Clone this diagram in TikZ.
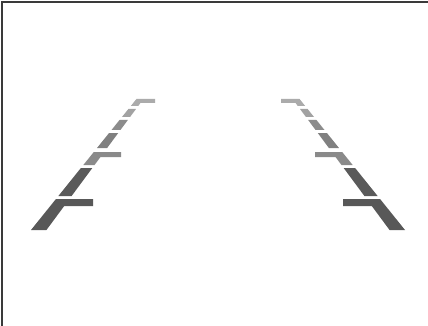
\documentclass[tikz,border=0pt]{standalone}
\usepackage{tikz}
\definecolor{gA}{HTML}{ABABAB}
\definecolor{gB}{HTML}{A2A2A2}
\definecolor{gC}{HTML}{8C8C8C}
\definecolor{gD}{HTML}{808080}
\definecolor{gE}{HTML}{8A8A8A}
\definecolor{gF}{HTML}{5A5A5A}
\definecolor{gG}{HTML}{585858}
\definecolor{frameC}{HTML}{3A3A3A}
\tikzset{
  lanefill/.style={fill=#1, draw=none},
  framestyle/.style={draw=frameC, line width=1.6pt}
}
% left edge of the guide line and its horizontal width as functions of y
\newcommand\lanexl[1]{(31+(230-(#1))*0.805)}
\newcommand\lanew[1]{(7+((#1)-100)*0.065)}
% plain segment: #1 top y, #2 bottom y, #3 colour
\newcommand\laneseg[3]{%
  \pgfmathsetmacro\xLt{\lanexl{#1}}%
  \pgfmathsetmacro\xLb{\lanexl{#2}}%
  \pgfmathsetmacro\xRt{\xLt+\lanew{#1}}%
  \pgfmathsetmacro\xRb{\xLb+\lanew{#2}}%
  \fill[lanefill=#3] (\xLt,#1) -- (\xRt,#1) -- (\xRb,#2) -- (\xLb,#2) -- cycle;%
}
% segment with tick: #1 top y, #2 bottom y, #3 colour, #4 tick height, #5 tick end x
\newcommand\lanetick[5]{%
  \pgfmathsetmacro\xLt{\lanexl{#1}}%
  \pgfmathsetmacro\xLb{\lanexl{#2}}%
  \pgfmathsetmacro\yH{#1+#4}%
  \pgfmathsetmacro\xRh{\lanexl{\yH}+\lanew{\yH}}%
  \pgfmathsetmacro\xRb{\xLb+\lanew{#2}}%
  \fill[lanefill=#3] (\xLt,#1) -- (#5,#1) -- (#5,\yH) -- (\xRh,\yH) -- (\xRb,#2) -- (\xLb,#2) -- cycle;%
}
\newcommand\laneside{%
  \lanetick{99}{106}{gA}{4}{155}%
  \laneseg{109}{117}{gB}%
  \laneseg{120}{130}{gC}%
  \laneseg{133}{148}{gD}%
  \lanetick{152}{165}{gE}{5}{121}%
  \laneseg{168}{196}{gF}%
  \lanetick{199}{230}{gG}{7}{93}%
}
\begin{document}
\begin{tikzpicture}[x=1pt,y=-1pt]
  \useasboundingbox (0,0) rectangle (428,326);
  \fill[white] (0,0) rectangle (428,326);
  \draw[framestyle] (2.2,326) -- (2.2,2.2) -- (428,2.2);
  \begin{scope}
    \laneside
  \end{scope}
  \begin{scope}[shift={(436,0)}, xscale=-1]
    \laneside
  \end{scope}
\end{tikzpicture}
\end{document}
